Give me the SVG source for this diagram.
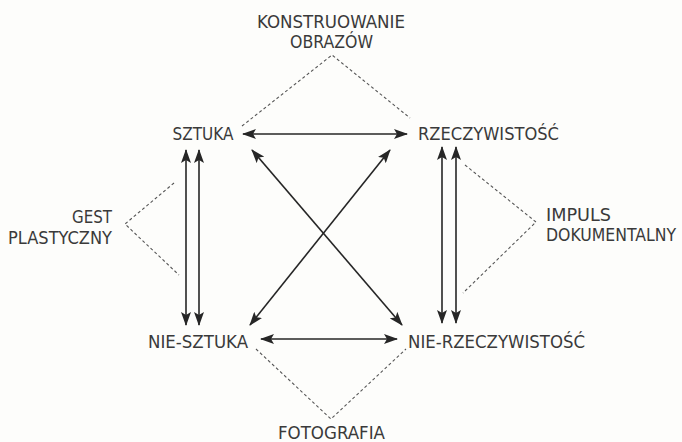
<svg xmlns="http://www.w3.org/2000/svg" width="682" height="442" viewBox="0 0 682 442">
<style>
text{font-family:"DejaVu Sans Condensed","DejaVu Sans","Liberation Sans",sans-serif;font-stretch:condensed;font-size:17px;fill:#3a3a3a}
.a{stroke:#262626;stroke-width:1.6;fill:none;marker-start:url(#ah);marker-end:url(#ah)}
.d{stroke:#555;stroke-width:1.1;fill:none;stroke-dasharray:3 2.5}
</style>
<defs>
<marker id="ah" viewBox="0 0 14 10" refX="13" refY="5" markerWidth="14" markerHeight="10" markerUnits="userSpaceOnUse" orient="auto-start-reverse">
<path d="M0,0 L14,5 L0,10 L3,5 Z" fill="#262626"/>
</marker>
</defs>
<rect width="682" height="442" fill="#fdfdfb"/>
<g id="connectors">
<line class="a" x1="243" y1="134" x2="407" y2="134"/>
<line class="a" x1="261" y1="339" x2="397" y2="339"/>
<line class="a" x1="186" y1="150" x2="186" y2="325"/>
<line class="a" x1="199" y1="150" x2="199" y2="325"/>
<line class="a" x1="442" y1="147" x2="442" y2="323"/>
<line class="a" x1="456" y1="147" x2="456" y2="323"/>
<line class="a" x1="252" y1="150" x2="402" y2="325"/>
<line class="a" x1="390" y1="150" x2="250" y2="325"/>
<polyline class="d" points="242,126 332,55 410,118"/>
<polyline class="d" points="174,183 125,224 179,275"/>
<polyline class="d" points="465,165 536,222 463,293"/>
<polyline class="d" points="256,349 331,419 406,349"/>
</g>
<g id="sztuka"><text x="203" y="140" text-anchor="middle">SZTUKA</text></g>
<g id="rzeczywistosc"><text x="418" y="140" textLength="141" lengthAdjust="spacingAndGlyphs">RZECZYWISTOŚĆ</text></g>
<g id="nie-sztuka"><text x="148" y="348" textLength="100" lengthAdjust="spacingAndGlyphs">NIE-SZTUKA</text></g>
<g id="nie-rzeczywistosc"><text x="408" y="348" textLength="177" lengthAdjust="spacingAndGlyphs">NIE-RZECZYWISTOŚĆ</text></g>
<g id="konstruowanie"><text x="257" y="28" textLength="148" lengthAdjust="spacingAndGlyphs">KONSTRUOWANIE</text><text x="290" y="48" textLength="83" lengthAdjust="spacingAndGlyphs">OBRAZÓW</text></g>
<g id="gest"><text x="72" y="223" textLength="40" lengthAdjust="spacingAndGlyphs">GEST</text><text x="8" y="244" textLength="104" lengthAdjust="spacingAndGlyphs">PLASTYCZNY</text></g>
<g id="impuls"><text x="546" y="221" textLength="65" lengthAdjust="spacingAndGlyphs">IMPULS</text><text x="546" y="241" textLength="130" lengthAdjust="spacingAndGlyphs">DOKUMENTALNY</text></g>
<g id="fotografia"><text x="278" y="439" textLength="107" lengthAdjust="spacingAndGlyphs">FOTOGRAFIA</text></g>
</svg>
